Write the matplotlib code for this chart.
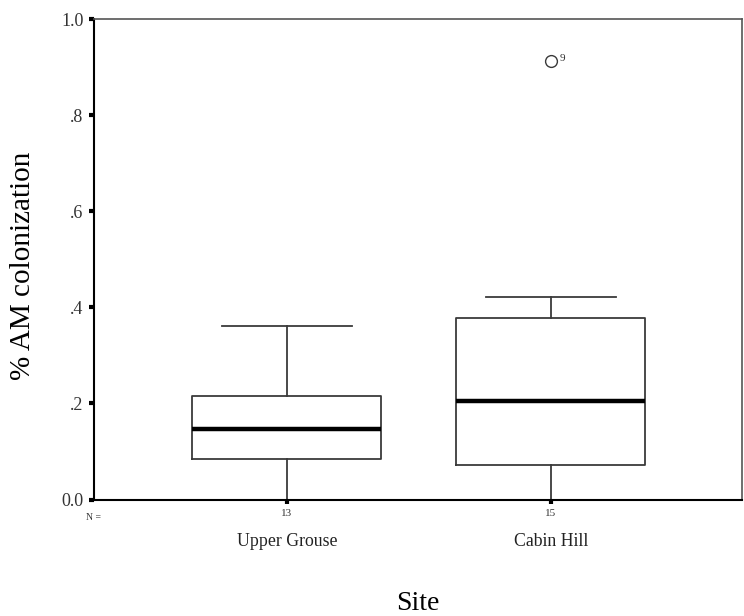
import matplotlib
matplotlib.use("Agg")
import matplotlib.pyplot as plt
from matplotlib.transforms import blended_transform_factory

# ---- data ----
sites = ["Upper Grouse", "Cabin Hill"]
n_counts = [13, 15]
q1 = [0.084, 0.072]
medians = [0.147, 0.205]
q3 = [0.215, 0.377]
whisker_low = [0.0, 0.0]
whisker_high = [0.361, 0.422]
outliers = [[], [0.914]]
outlier_labels = [[], ["9"]]
y_ticks = [0.0, 0.2, 0.4, 0.6, 0.8, 1.0]
y_ticklabels = ["0.0", ".2", ".4", ".6", ".8", "1.0"]

plt.rcParams["font.family"] = ["Liberation Serif", "DejaVu Serif"]

W, H = 744, 616
fig = plt.figure(figsize=(W / 100, H / 100), dpi=100)
ax = fig.add_axes([94 / W, (H - 499.5) / H, (742 - 94) / W, (499.5 - 19.2) / H])

stats = []
for i in range(len(sites)):
    stats.append(dict(label=sites[i], q1=q1[i], med=medians[i], q3=q3[i],
                      whislo=whisker_low[i], whishi=whisker_high[i],
                      fliers=outliers[i]))
positions = list(range(1, len(sites) + 1))
line_col = "#3a3a3a"
ax.bxp(stats, positions=positions, widths=0.716, capwidths=0.496,
       boxprops=dict(color=line_col, linewidth=1.3),
       whiskerprops=dict(color=line_col, linewidth=1.3),
       capprops=dict(color=line_col, linewidth=1.3),
       medianprops=dict(color="black", linewidth=3.2),
       flierprops=dict(marker="o", markersize=8.5, markerfacecolor="none",
                       markeredgecolor=line_col, markeredgewidth=1.0),
       manage_ticks=False)

for pos, vals, labs in zip(positions, outliers, outlier_labels):
    for v, lab in zip(vals, labs):
        ax.annotate(lab, (pos, v), xytext=(6, 1.5), textcoords="offset points",
                    fontsize=8, ha="left", va="center", color="#333333")

ax.set_xlim(0.269, 2.7236)
ax.set_ylim(0, 1.0)
ax.set_yticks(y_ticks)
ax.set_yticklabels(y_ticklabels, fontsize=13, color="#333333")
ax.set_xticks(positions)
ax.set_xticklabels([str(n) for n in n_counts], fontsize=8, color="#333333")
ax.tick_params(axis="y", length=3.5, width=3, direction="out", pad=4)
ax.tick_params(axis="x", length=3, width=3, direction="out", pad=4)

for s in ["left", "bottom"]:
    ax.spines[s].set_linewidth(1.5)
    ax.spines[s].set_color("black")
for s in ["top", "right"]:
    ax.spines[s].set_linewidth(1.2)
    ax.spines[s].set_color("#555555")

trans = blended_transform_factory(ax.transData, fig.transFigure)
for pos, name in zip(positions, sites):
    ax.text(pos, 1 - 541 / H, name, transform=trans, ha="center", va="center",
            fontsize=12.8, color="#222222")
fig.text(94 / W, 1 - 517 / H, "N =", ha="center", va="center", fontsize=7,
         color="#333333")

fig.text(418 / W, 1 - 604 / H, "Site", ha="center", va="center", fontsize=20)
fig.text(23 / W, 1 - 266 / H, "% AM colonization", ha="center", va="center",
         rotation=90, fontsize=21)

fig.savefig("out.png", dpi=100)
